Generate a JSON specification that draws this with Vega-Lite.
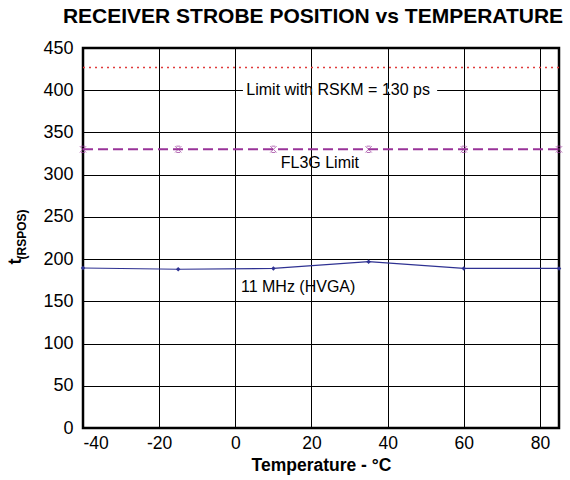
{
  "$schema": "https://vega.github.io/schema/vega-lite/v6.json",
  "width": 476,
  "height": 380,
  "autosize": {"type": "none"},
  "padding": {"left": 83, "top": 48, "right": 11, "bottom": 52},
  "background": "white",
  "config": {
    "font": "Liberation Sans",
    "view": {"stroke": "black", "strokeWidth": 2.5},
    "axis": {"labelFont": "Liberation Sans", "titleFont": "Liberation Sans", "labelColor": "black", "titleColor": "black", "gridColor": "black", "gridOpacity": 1, "gridWidth": 1, "domain": false, "ticks": false}
  },
  "title": {"text": "RECEIVER STROBE POSITION vs TEMPERATURE", "fontSize": 21, "fontWeight": "bold", "font": "Liberation Sans", "color": "black", "offset": 12, "anchor": "middle", "dx": -8},
  "datasets": {
    "rskm": [{"temp": -40, "value": 427}, {"temp": 85, "value": 427}],
    "fl3g": [{"temp": -40, "value": 330}, {"temp": -15, "value": 330}, {"temp": 10, "value": 330}, {"temp": 35, "value": 330}, {"temp": 60, "value": 330}, {"temp": 85, "value": 330}],
    "hvga": [{"temp": -40, "value": 189.5}, {"temp": -15, "value": 188}, {"temp": 10, "value": 189}, {"temp": 35, "value": 197}, {"temp": 60, "value": 189}, {"temp": 85, "value": 189}],
    "gap": [{"x0": 2, "x1": 53, "value": 400}],
    "labels": [
      {"temp": 27, "value": 400, "label": "Limit with RSKM = 130 ps"},
      {"temp": 22.2, "value": 314, "label": "FL3G Limit"},
      {"temp": 16.5, "value": 167, "label": "11 MHz (HVGA)"}
    ]
  },
  "resolve": {"axis": {"y": "independent"}},
  "layer": [
    {
      "encoding": {
        "x": {"field": "temp", "type": "quantitative", "scale": {"domain": [-40, 85], "nice": false},
          "axis": {"values": [-40, -20, 0, 20, 40, 60, 80], "labelExpr": "replace(datum.label, '\u2212', '-')", "title": "Temperature - °C", "titleFontSize": 17.5, "titleFontWeight": "bold", "labelFontSize": 17.5, "labelPadding": 6, "titlePadding": 5}},
        "y": {"field": "value", "type": "quantitative", "scale": {"domain": [0, 450], "nice": false},
          "axis": {"orient": "left", "values": [0, 50, 100, 150, 200, 250, 300, 350, 400, 450], "title": "(RSPOS)", "titleFontSize": 12, "titleFontWeight": "bold", "titleX": -55, "titleY": 186, "labelFontSize": 18, "labelPadding": 10}}
      },
      "layer": [
        {"data": {"name": "gap"}, "mark": {"type": "rule", "color": "white", "strokeWidth": 3},
          "encoding": {"x": {"field": "x0", "type": "quantitative"}, "x2": {"field": "x1"}}},
        {"data": {"name": "rskm"}, "mark": {"type": "line", "color": "#e03c3c", "strokeWidth": 1.5, "strokeDash": [2, 4]}},
        {"data": {"name": "fl3g"}, "mark": {"type": "line", "color": "#993399", "strokeWidth": 2, "strokeDash": [10, 5]}},
        {"data": {"name": "fl3g"}, "mark": {"type": "point", "color": "#993399", "filled": false, "strokeWidth": 1, "size": 40, "shape": "M-1,-1L1,1M-1,1L1,-1M-0.6,-1L0.6,-1M-0.6,1L0.6,1", "clip": false}},
        {"data": {"name": "hvga"}, "mark": {"type": "line", "color": "#2e3192", "strokeWidth": 1.2}},
        {"data": {"name": "hvga"}, "mark": {"type": "point", "color": "#2e3192", "filled": true, "shape": "diamond", "size": 20, "opacity": 1, "clip": false}},
        {"data": {"name": "labels"}, "mark": {"type": "text", "fontSize": 16, "color": "black", "align": "center", "baseline": "middle", "font": "Liberation Sans"},
          "encoding": {"text": {"field": "label"}}}
      ]
    },
    {
      "data": {"name": "rskm"},
      "mark": {"type": "point", "opacity": 0},
      "encoding": {
        "x": {"field": "temp", "type": "quantitative"},
        "y": {"field": "value", "type": "quantitative",
          "axis": {"orient": "left", "labels": false, "grid": false, "ticks": false, "domain": false, "title": "t", "titleFontSize": 18, "titleFontWeight": "bold", "titleX": -59, "titleY": 213}}
      }
    }
  ]
}
